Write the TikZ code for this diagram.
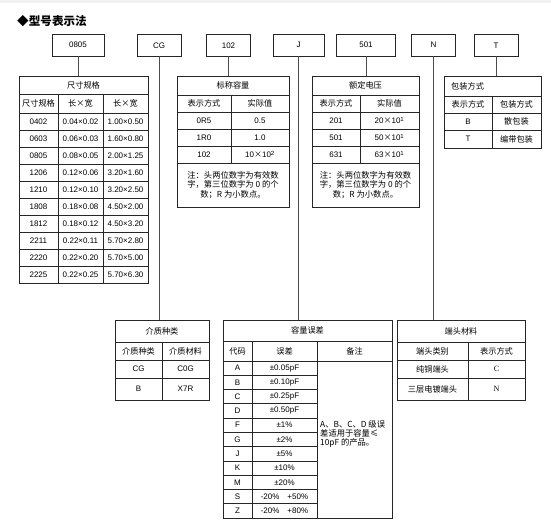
\documentclass[tikz,border=0pt]{standalone}
\usepackage{fontspec}
\setmainfont{Liberation Sans}
\newfontfamily\cjk{Noto Sans CJK SC}
\newfontfamily\tms{Liberation Serif}
\newcommand\zh[1]{{\cjk\fontsize{8.2}{9.3}\selectfont #1}}
\begin{document}
\begin{tikzpicture}[x=1pt,y=-1pt,
  frm/.style={draw=black!85, line width=0.8pt},
  tframe/.style={frm, inner sep=0pt, outer sep=0pt},
  topbox/.style={frm, minimum width=#1, minimum height=22pt, inner sep=0pt, outer sep=0pt, font=\fontsize{8}{9}\selectfont},
  link/.style={draw=black!70, line width=0.8pt},
  cell/.style={inner sep=0pt, font=\fontsize{8}{9}\selectfont},
  note/.style={inner sep=0pt, align=center, font=\cjk\fontsize{8.3}{9.3}\selectfont}]
\useasboundingbox (0,0) rectangle (551,529);
\fill[black!5] (0,0) rectangle (551,3);

% title
\node[anchor=west, inner sep=0pt] (title) at (17,21) {{\cjk\bfseries\fontsize{11.6}{13}\selectfont ◆型号表示法}};

% top boxes
\node[topbox=52pt] (b0805) at (78,45) {0805};
\node[topbox=44pt] (bcg) at (159,45.5) {CG};
\node[topbox=44pt] (b102) at (228.5,45.5) {102};
\node[topbox=51pt] (bj) at (298.5,45) {J};
\node[topbox=59pt] (b501) at (366,45) {501};
\node[topbox=44pt] (bn) at (433.5,45) {N};
\node[topbox=44pt] (bt) at (496,45.5) {T};

% table frames
\node[tframe, minimum width=129pt, minimum height=207pt] (t1) at (83.5,179.5) {};
\node[tframe, minimum width=112pt, minimum height=131pt] (t2) at (233,141.5) {};
\node[tframe, minimum width=107pt, minimum height=131pt] (t3) at (365.5,141.5) {};
\node[tframe, minimum width=97pt, minimum height=72pt] (t4) at (492.5,112) {};
\node[tframe, minimum width=94pt, minimum height=80pt] (t5) at (162,360) {};
\node[tframe, minimum width=169pt, minimum height=198pt] (t6) at (307.5,419) {};
\node[tframe, minimum width=128pt, minimum height=80pt] (t7) at (461,360) {};

% connectors
\draw[link] (b0805.south) -- (b0805.south |- t1.north);
\draw[link] (bcg.south) -- (bcg.south |- t5.north);
\draw[link] (b102.south) -- (b102.south |- t2.north);
\draw[link] (bj.south) -- (bj.south |- t6.north);
\draw[link] (b501.south) -- (b501.south |- t3.north);
\draw[link] (bn.south) -- (bn.south |- t7.north);
\draw[link] (bt.south) -- (bt.south |- t4.north);

% ---------- table 1 : size
\foreach \y in {94,113,130,...,266} \draw[frm] (19,\y) -- (148,\y);
\draw[frm] (58,94) -- (58,283);
\draw[frm] (103,94) -- (103,283);
\node[cell] (t1h) at (83.5,85) {\zh{尺寸规格}};
\node[cell] (t1s1) at (38.5,103.5) {\zh{尺寸规格}};
\node[cell] (t1s2) at (80.5,103.5) {\zh{长×宽}};
\node[cell] (t1s3) at (125.5,103.5) {\zh{长×宽}};
\foreach \a/\b/\c [count=\i from 0] in {0402/0.04×0.02/1.00×0.50,0603/0.06×0.03/1.60×0.80,0805/0.08×0.05/2.00×1.25,1206/0.12×0.06/3.20×1.60,1210/0.12×0.10/3.20×2.50,1808/0.18×0.08/4.50×2.00,1812/0.18×0.12/4.50×3.20,2211/0.22×0.11/5.70×2.80,2220/0.22×0.20/5.70×5.00,2225/0.22×0.25/5.70×6.30}{
  \node[cell] (t1a\i) at (38.5,{121.5+17*\i}) {\a};
  \node[cell] (t1b\i) at (80.5,{121.5+17*\i}) {\b};
  \node[cell] (t1c\i) at (125.5,{121.5+17*\i}) {\c};
}

% ---------- table 2 : capacitance
\foreach \y in {95,112,129,146,163} \draw[frm] (177,\y) -- (289,\y);
\draw[frm] (231,95) -- (231,163);
\node[cell] (t2h) at (233,85.5) {\zh{标称容量}};
\node[cell] (t2s1) at (204,103.5) {\zh{表示方式}};
\node[cell] (t2s2) at (260,103.5) {\zh{实际值}};
\node[cell] (t2a1) at (204,120.5) {0R5};
\node[cell] (t2b1) at (260,120.5) {0.5};
\node[cell] (t2a2) at (204,137.5) {1R0};
\node[cell] (t2b2) at (260,137.5) {1.0};
\node[cell] (t2a3) at (204,154.5) {102};
\node[cell] (t2b3) at (260,154.5) {10{\cjk ×}10\textsuperscript{2}};
\node[note] (t2n) at (233,185) {注：头两位数字为有效数\\字，第三位数字为 0 的个\\数；R 为小数点。};

% ---------- table 3 : voltage
\foreach \y in {95,112,129,146,163} \draw[frm] (312,\y) -- (419,\y);
\draw[frm] (360,95) -- (360,163);
\node[cell] (t3h) at (365.5,85.5) {\zh{额定电压}};
\node[cell] (t3s1) at (336,103.5) {\zh{表示方式}};
\node[cell] (t3s2) at (389.5,103.5) {\zh{实际值}};
\node[cell] (t3a1) at (336,120.5) {201};
\node[cell] (t3b1) at (389.5,120.5) {20{\cjk ×}10\textsuperscript{1}};
\node[cell] (t3a2) at (336,137.5) {501};
\node[cell] (t3b2) at (389.5,137.5) {50{\cjk ×}10\textsuperscript{1}};
\node[cell] (t3a3) at (336,154.5) {631};
\node[cell] (t3b3) at (389.5,154.5) {63{\cjk ×}10\textsuperscript{1}};
\node[note] (t3n) at (365.5,185) {注：头两位数字为有效数\\字，第三位数字为 0 的个\\数；R 为小数点。};

% ---------- table 4 : packing
\foreach \y in {96,113,130} \draw[frm] (444,\y) -- (541,\y);
\draw[frm] (492,96) -- (492,148);
\node[cell, anchor=west] (t4h) at (451,86) {\zh{包装方式}};
\node[cell] (t4s1) at (468,104.5) {\zh{表示方式}};
\node[cell] (t4s2) at (516.5,104.5) {\zh{包装方式}};
\node[cell] (t4a1) at (468,121.5) {B};
\node[cell] (t4b1) at (516.5,121.5) {\zh{散包装}};
\node[cell] (t4a2) at (468,139) {T};
\node[cell] (t4b2) at (516.5,139) {\zh{编带包装}};

% ---------- table 5 : dielectric
\foreach \y in {342,360,378} \draw[frm] (115,\y) -- (209,\y);
\draw[frm] (162,342) -- (162,400);
\node[cell] (t5h) at (162,331) {\zh{介质种类}};
\node[cell] (t5s1) at (138.5,351) {\zh{介质种类}};
\node[cell] (t5s2) at (185.5,351) {\zh{介质材料}};
\node[cell] (t5a1) at (138.5,369) {CG};
\node[cell] (t5b1) at (185.5,369) {C0G};
\node[cell] (t5a2) at (138.5,389) {B};
\node[cell] (t5b2) at (185.5,389) {X7R};

% ---------- table 6 : tolerance
\foreach \y in {341,361} \draw[frm] (223,\y) -- (392,\y);
\foreach \k in {1,...,10} \draw[frm] (223,{361+157/11*\k}) -- (317,{361+157/11*\k});
\draw[frm] (252,341) -- (252,518);
\draw[frm] (317,341) -- (317,518);
\node[cell] (t6h) at (307.5,330.5) {\zh{容量误差}};
\node[cell] (t6s1) at (237.5,351) {\zh{代码}};
\node[cell] (t6s2) at (284.5,351) {\zh{误差}};
\node[cell] (t6s3) at (354.5,351) {\zh{备注}};
\foreach \a/\b [count=\i from 0] in {A/±0.05pF,B/±0.10pF,C/±0.25pF,D/±0.50pF,F/±1\%,G/±2\%,J/±5\%,K/±10\%,M/±20\%,S/-20\%\quad+50\%,Z/-20\%\quad+80\%}{
  \node[cell] (t6a\i) at (237.5,{361+157/11*(\i+0.5)}) {\a};
  \node[cell] (t6b\i) at (284.5,{361+157/11*(\i+0.5)}) {\b};
}
\node[note, align=left, anchor=west] (t6n) at (320,434) {A、B、C、D 级误\\差适用于容量≤\\10pF 的产品。};

% ---------- table 7 : termination
\foreach \y in {342,360,378} \draw[frm] (397,\y) -- (525,\y);
\draw[frm] (468,342) -- (468,400);
\node[cell] (t7h) at (461,331) {\zh{端头材料}};
\node[cell] (t7s1) at (432.5,351) {\zh{端头类别}};
\node[cell] (t7s2) at (496.5,351) {\zh{表示方式}};
\node[cell] (t7a1) at (432.5,369) {\zh{纯铜端头}};
\node[cell] (t7b1) at (496.5,369) {\tms C};
\node[cell] (t7a2) at (432.5,389) {\zh{三层电镀端头}};
\node[cell] (t7b2) at (496.5,389) {\tms N};
\end{tikzpicture}
\end{document}
